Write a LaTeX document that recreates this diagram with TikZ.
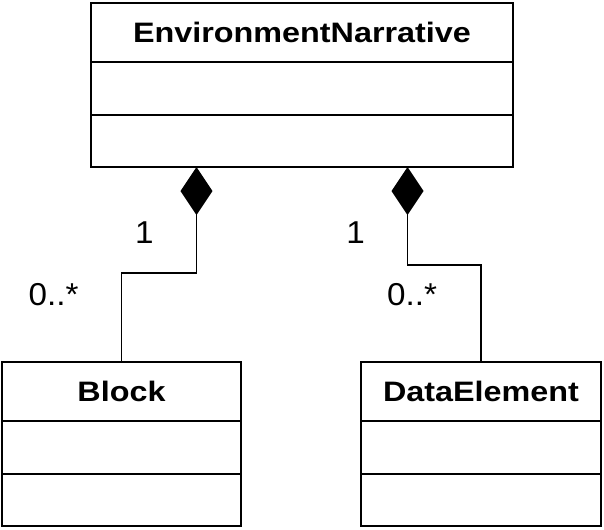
\documentclass[tikz,border=0pt]{standalone}
\usepackage{fontspec}
\setmainfont{Liberation Sans}[FakeStretch=1.15]
\newfontfamily\multfont{Liberation Sans}[FakeStretch=1.05]
\usepackage{tikz}
\usetikzlibrary{arrows.meta,positioning,calc}

\tikzset{
    classname/.style={draw, line width=1.4pt, inner sep=0pt, outer sep=0pt, minimum height=1.475cm, font=\fontsize{20}{24}\selectfont\bfseries},
    classpart/.style={draw, line width=1.4pt, inner sep=0pt, outer sep=0pt, minimum height=1.3125cm},
    composition/.style={line width=1pt, {Diamond[length=1.2cm,width=0.8cm]}-},
    mult/.style={font=\multfont\fontsize{22.5}{26}\selectfont, inner sep=0pt}
}

\begin{document}
\begin{tikzpicture}[x=0.025cm,y=-0.025cm]
        \useasboundingbox (0, 0) rectangle (604, 529);
        \node [classname, minimum width=10.55cm] (narr) at (302, 32.5) {EnvironmentNarrative};
        \node [classpart, minimum width=10.55cm, below=0pt of narr] (narrattr) {};
        \node [classpart, minimum width=10.55cm, below=0pt of narrattr] (narrops) {};
        \node [classname, minimum width=5.975cm] (block) at (121.5, 391.5) {Block};
        \node [classpart, minimum width=5.975cm, below=0pt of block] (blockattr) {};
        \node [classpart, minimum width=5.975cm, below=0pt of blockattr] (blockops) {};
        \node [classname, minimum width=6cm] (data) at (481, 391.5) {DataElement};
        \node [classpart, minimum width=6cm, below=0pt of data] (dataattr) {};
        \node [classpart, minimum width=6cm, below=0pt of dataattr] (dataops) {};
        \coordinate (narrleft) at ($(narrops.south west)!0.25!(narrops.south east)$);
        \coordinate (narrright) at ($(narrops.south west)!0.75!(narrops.south east)$);
        \draw [composition] (narrleft) -- ++(0, 106) -| (block.north);
        \draw [composition] (narrright) -- ++(0, 98) -| (data.north);
        \node [mult] (blockone) at ($(narrleft)+(-52, 66)$) {1};
        \node [mult] (blockmany) at ($(block.north)+(-68, -67)$) {0..*};
        \node [mult] (dataone) at ($(narrright)+(-52, 66)$) {1};
        \node [mult] (datamany) at ($(data.north)+(-69, -67)$) {0..*};
\end{tikzpicture}
\end{document}
